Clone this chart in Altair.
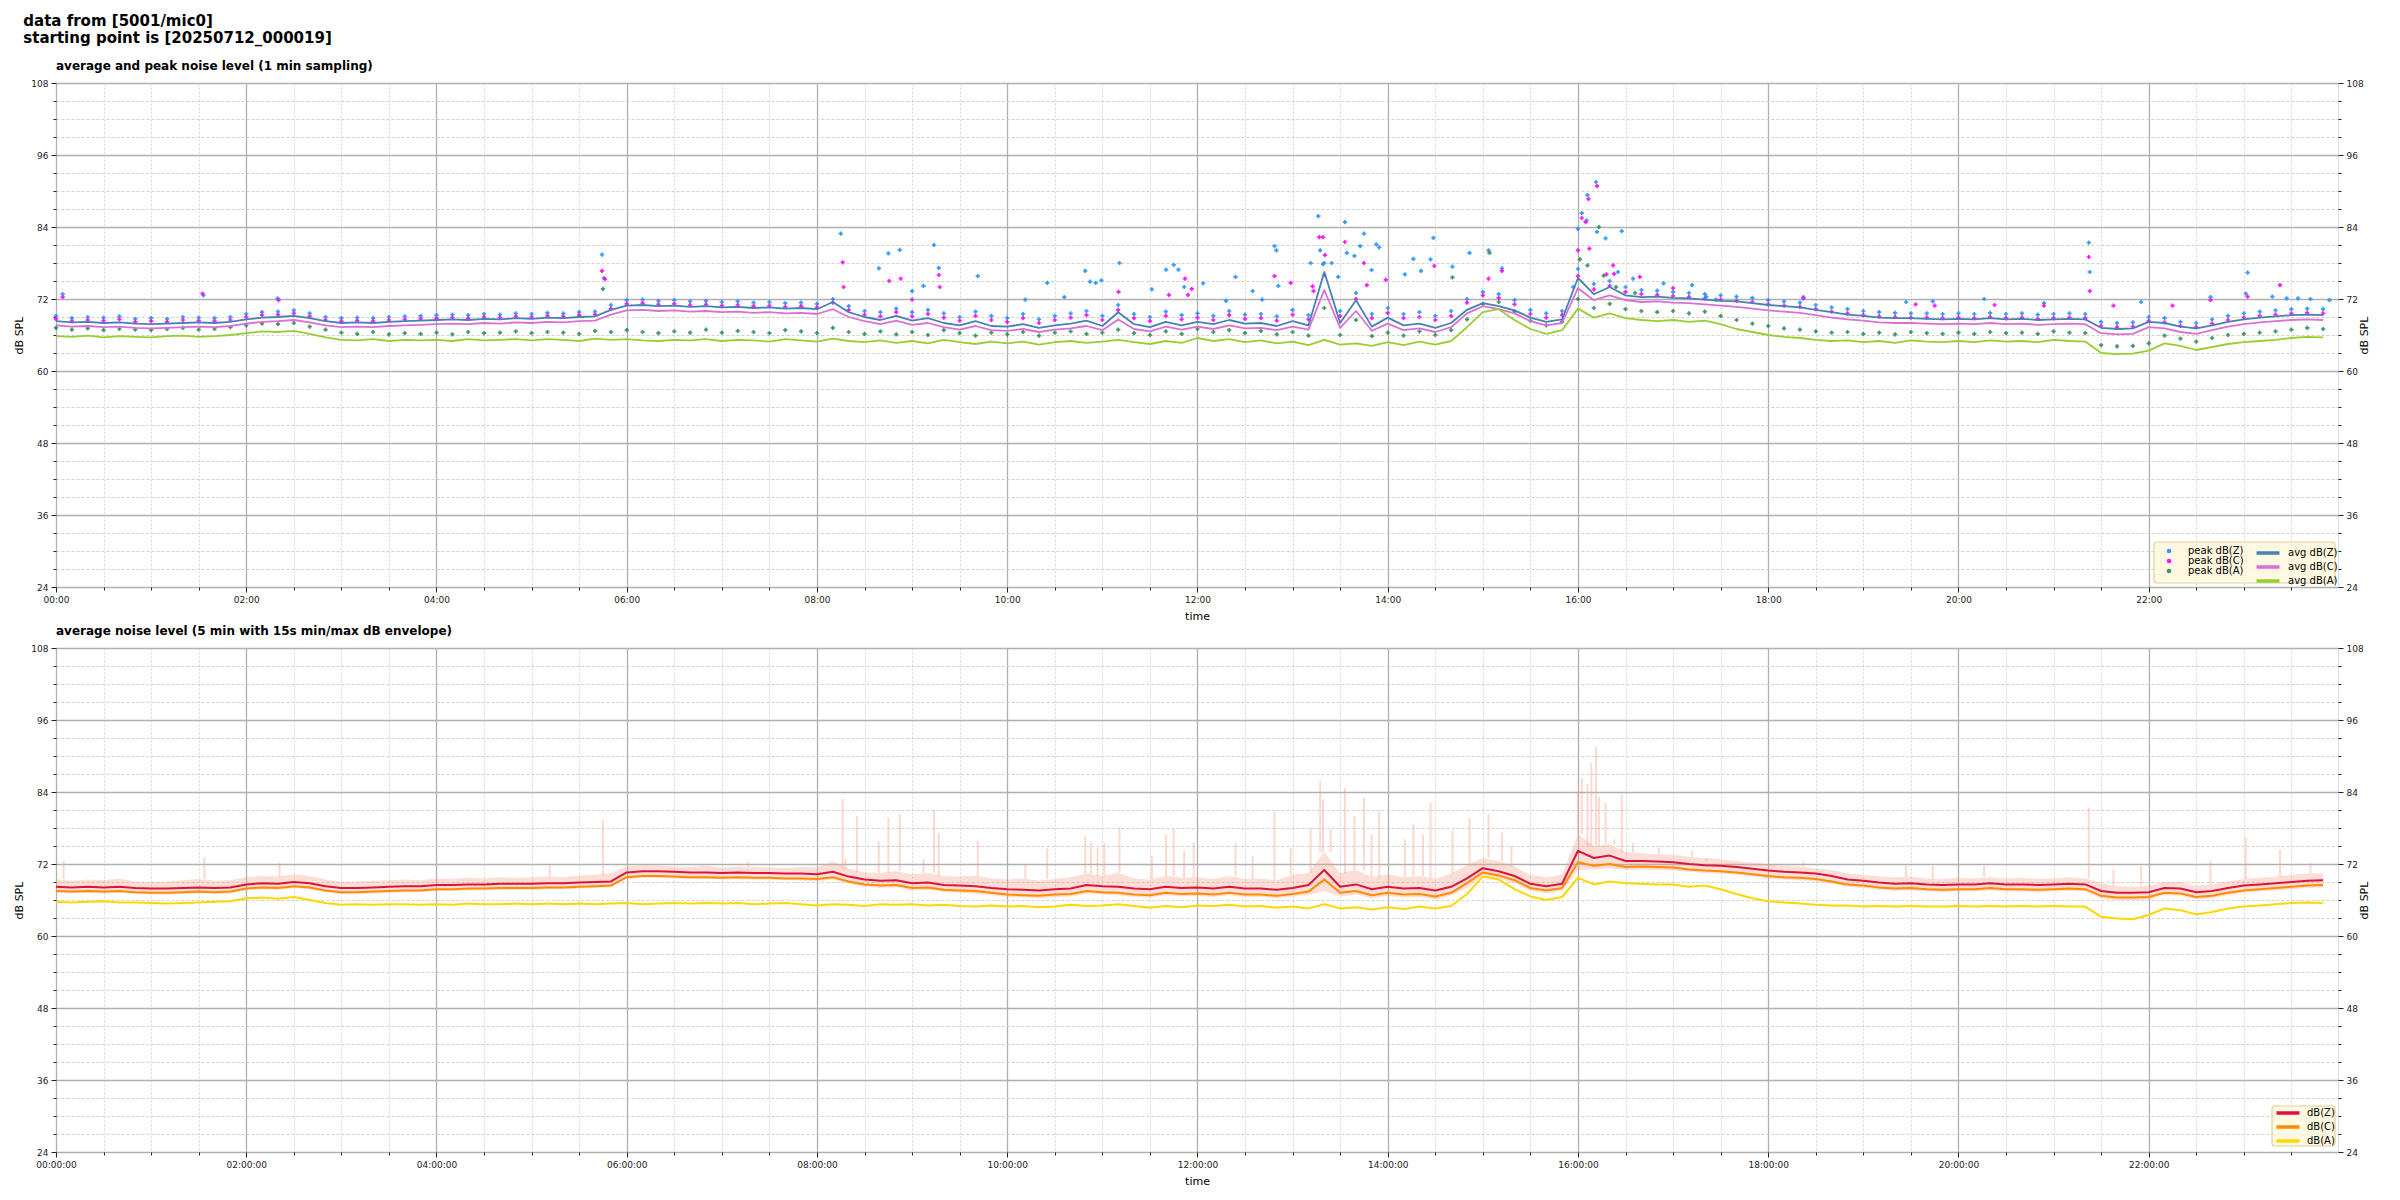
import altair as alt
import pandas as pd

FONT = "DejaVu Sans"
BG = "#fff8dc"

# ---- top panel: 1-min average (sampled every 10 min) ----
AVG_Z = [
    68.3, 68.1, 68.2, 68.0, 68.1, 67.9,  67.8, 67.9, 68.0, 68.1, 68.0, 68.2,
    68.6, 68.9, 69.0, 69.2, 68.8, 68.3,  68.0, 68.1, 68.0, 68.2, 68.3, 68.4,
    68.5, 68.6, 68.5, 68.7, 68.6, 68.8,  68.7, 68.9, 68.8, 69.0, 69.1, 70.2,
    70.9, 71.0, 70.8, 70.9, 70.7, 70.8,  70.6, 70.7, 70.5, 70.6, 70.4, 70.5,
    70.3, 71.5, 69.8, 69.0, 68.5, 69.2,  68.4, 68.8, 68.0, 67.6, 68.3, 67.5,
    67.4, 67.8, 67.2, 67.6, 67.9, 68.4,  67.5, 69.8, 67.8, 67.3, 68.2, 67.6,
    68.2, 67.8, 68.5, 67.9, 68.0, 67.5,  68.3, 67.6, 76.5, 68.0, 71.8, 67.4,
    68.9, 67.6, 67.9, 67.2, 68.0, 70.2,  71.3, 70.8, 70.1, 68.9, 68.2, 68.6,
    75.5, 72.8, 74.0, 72.6, 72.3, 72.4,  72.2, 72.1, 71.9, 71.7, 71.6, 71.3,
    71.0, 70.8, 70.6, 70.2, 69.8, 69.4,  69.2, 68.9, 68.8, 68.8, 68.7, 68.6,
    68.7, 68.6, 68.8, 68.6, 68.7, 68.5,  68.6, 68.7, 68.6, 67.2, 67.0, 67.1,
    68.2, 68.0, 67.4, 67.1, 67.6, 68.2,  68.6, 68.9, 69.1, 69.3, 69.4, 69.3,
]
AVG_C = [
    67.6, 67.4, 67.5, 67.3, 67.4, 67.2,  67.1, 67.2, 67.3, 67.4, 67.3, 67.5,
    67.9, 68.2, 68.3, 68.5, 68.1, 67.6,  67.3, 67.4, 67.3, 67.5, 67.6, 67.7,
    67.8, 67.9, 67.8, 68.0, 67.9, 68.1,  68.0, 68.2, 68.1, 68.3, 68.4, 69.4,
    70.1, 70.2, 70.0, 70.1, 69.9, 70.0,  69.8, 69.9, 69.7, 69.8, 69.6, 69.7,
    69.5, 70.3, 69.0, 68.3, 67.8, 68.4,  67.7, 68.0, 67.3, 66.9, 67.5, 66.8,
    66.7, 67.0, 66.5, 66.9, 67.1, 67.5,  66.8, 68.6, 67.0, 66.6, 67.4, 66.9,
    67.4, 67.0, 67.6, 67.1, 67.2, 66.8,  67.4, 66.9, 73.5, 67.2, 70.0, 66.7,
    67.9, 66.8, 67.1, 66.5, 67.3, 69.6,  70.8, 70.3, 69.6, 68.3, 67.6, 68.0,
    73.8, 71.8, 72.6, 71.8, 71.5, 71.6,  71.4, 71.3, 71.1, 70.9, 70.7, 70.4,
    70.1, 69.9, 69.7, 69.3, 68.9, 68.6,  68.4, 68.1, 68.0, 68.0, 67.9, 67.8,
    67.9, 67.8, 68.0, 67.8, 67.9, 67.7,  67.8, 67.9, 67.8, 66.3, 66.1, 66.2,
    67.3, 67.1, 66.5, 66.2, 66.8, 67.4,  67.8, 68.1, 68.3, 68.5, 68.6, 68.5,
]
AVG_A = [
    65.8, 65.7, 65.9, 65.6, 65.8, 65.7,  65.6, 65.8, 65.9, 65.7, 65.8, 66.0,
    66.3, 66.6, 66.5, 66.7, 66.2, 65.6,  65.2, 65.1, 65.3, 65.0, 65.2, 65.1,
    65.2, 65.0, 65.3, 65.1, 65.2, 65.3,  65.1, 65.3, 65.2, 65.0, 65.4, 65.2,
    65.3, 65.1, 65.0, 65.2, 65.1, 65.3,  65.0, 65.2, 65.1, 64.9, 65.3, 65.1,
    64.9, 65.4, 65.0, 64.8, 65.1, 64.7,  65.0, 64.6, 65.2, 64.8, 64.5, 64.9,
    64.6, 64.9, 64.4, 64.8, 65.0, 64.7,  64.9, 65.2, 64.8, 64.5, 65.0, 64.7,
    65.5, 65.0, 65.3, 64.8, 65.1, 64.6,  64.9, 64.3, 65.2, 64.4, 64.6, 64.2,
    64.8, 64.3, 64.9, 64.4, 65.0, 67.3,  69.8, 70.3, 68.5, 67.0, 66.2, 66.8,
    70.4, 68.9, 69.6, 68.8, 68.5, 68.3,  68.5, 68.2, 68.4, 67.8, 67.0, 66.5,
    66.0, 65.7, 65.5, 65.2, 65.0, 65.1,  64.8, 65.0, 64.7, 65.1, 64.9, 64.8,
    65.0, 64.8, 65.1, 64.9, 65.0, 64.8,  65.2, 65.0, 64.9, 63.0, 62.8, 62.9,
    63.4, 64.6, 64.2, 63.5, 64.0, 64.5,  64.8, 65.0, 65.2, 65.5, 65.7, 65.6,
]

# ---- top panel: 1-min peaks ----
PEAK_Z = [
    69.2, 68.8, 69.0, 68.9, 69.1, 68.7,  68.8, 68.7, 69.0, 68.9, 68.8, 69.0,
    69.5, 69.8, 69.9, 70.1, 69.6, 69.0,  68.8, 68.9, 68.8, 69.0, 69.1, 69.2,
    69.3, 69.4, 69.3, 69.5, 69.4, 69.6,  69.5, 69.7, 69.6, 69.8, 69.9, 71.0,
    71.8, 71.9, 71.7, 71.8, 71.6, 71.7,  71.5, 71.6, 71.4, 71.5, 71.3, 71.4,
    71.2, 72.0, 70.8, 70.0, 69.8, 70.4,  69.8, 70.2, 69.6, 69.0, 69.9, 69.2,
    68.8, 69.5, 68.6, 69.2, 69.6, 70.0,  69.2, 71.0, 69.5, 69.0, 69.9, 69.3,
    69.6, 69.2, 70.0, 69.4, 69.5, 69.1,  70.2, 69.3, 78.0, 70.0, 73.0, 69.5,
    70.5, 69.5, 69.8, 69.2, 70.0, 72.0,  73.2, 72.8, 71.8, 70.2, 69.6, 70.0,
    77.0, 74.5, 75.0, 74.0, 73.5, 73.4,  73.2, 73.0, 72.8, 72.6, 72.4, 72.2,
    71.8, 71.6, 71.4, 71.0, 70.6, 70.3,  70.0, 69.8, 69.7, 69.6, 69.6, 69.5,
    69.6, 69.5, 69.7, 69.5, 69.6, 69.4,  69.5, 69.6, 69.5, 68.2, 68.0, 68.1,
    69.0, 68.8, 68.2, 68.0, 68.6, 69.2,  69.6, 69.9, 70.1, 70.3, 70.4, 70.3,
]
PEAK_C = [
    68.7, 68.3, 68.5, 68.4, 68.6, 68.2,  68.3, 68.2, 68.5, 68.4, 68.3, 68.5,
    69.0, 69.3, 69.4, 69.6, 69.1, 68.5,  68.3, 68.4, 68.3, 68.5, 68.6, 68.7,
    68.8, 68.9, 68.8, 69.0, 68.9, 69.1,  69.0, 69.2, 69.1, 69.3, 69.4, 70.4,
    71.2, 71.3, 71.1, 71.2, 71.0, 71.1,  70.9, 71.0, 70.8, 70.9, 70.7, 70.8,
    70.6, 71.4, 70.2, 69.4, 69.1, 69.8,  69.1, 69.5, 68.9, 68.4, 69.2, 68.5,
    68.2, 68.8, 68.0, 68.5, 68.9, 69.3,  68.5, 70.2, 68.8, 68.3, 69.2, 68.6,
    68.9, 68.5, 69.3, 68.7, 68.8, 68.4,  69.4, 68.6, 76.0, 69.2, 72.0, 68.8,
    69.7, 68.8, 69.0, 68.5, 69.2, 71.4,  72.6, 72.2, 71.1, 69.5, 68.9, 69.3,
    75.8, 73.6, 74.2, 73.2, 72.8, 72.7,  72.5, 72.3, 72.1, 71.9, 71.7, 71.5,
    71.1, 70.9, 70.7, 70.3, 69.9, 69.6,  69.3, 69.1, 69.0, 68.9, 68.9, 68.8,
    68.9, 68.8, 69.0, 68.8, 68.9, 68.7,  68.8, 68.9, 68.8, 67.5, 67.3, 67.4,
    68.3, 68.1, 67.5, 67.3, 67.9, 68.5,  68.9, 69.2, 69.4, 69.6, 69.7, 69.6,
]
PEAK_A = [
    67.2, 66.9, 67.1, 66.8, 67.0, 66.9,  66.8, 67.0, 67.2, 66.9, 67.0, 67.3,
    67.6, 67.9, 67.8, 68.0, 67.4, 66.9,  66.4, 66.2, 66.5, 66.1, 66.3, 66.2,
    66.4, 66.1, 66.5, 66.3, 66.4, 66.6,  66.3, 66.5, 66.4, 66.2, 66.7, 66.5,
    66.8, 66.5, 66.3, 66.6, 66.4, 66.9,  66.4, 66.7, 66.5, 66.3, 66.8, 66.6,
    66.3, 67.2, 66.5, 66.2, 66.6, 66.1,  66.5, 66.0, 66.8, 66.3, 65.9, 66.4,
    66.1, 66.5, 65.9, 66.4, 66.6, 66.2,  66.4, 66.9, 66.3, 66.0, 66.6, 66.2,
    67.0, 66.5, 66.8, 66.3, 66.7, 66.1,  66.5, 65.9, 70.5, 66.0, 68.5, 65.8,
    66.4, 65.9, 66.6, 66.0, 66.8, 68.6,  71.2, 71.5, 69.9, 68.4, 67.6, 68.2,
    72.0, 70.5, 71.2, 70.3, 70.0, 69.8,  70.0, 69.6, 69.9, 69.2, 68.5, 67.9,
    67.5, 67.1, 66.9, 66.6, 66.4, 66.5,  66.2, 66.4, 66.1, 66.5, 66.3, 66.2,
    66.4, 66.2, 66.5, 66.3, 66.4, 66.2,  66.6, 66.4, 66.3, 64.3, 64.1, 64.2,
    64.6, 65.9, 65.4, 64.9, 65.5, 66.0,  66.2, 66.4, 66.6, 66.9, 67.2, 67.0,
]

# isolated peak outliers (hour, dB)
OUT_Z_H = [0.07, 1.55, 2.33, 5.74, 5.76, 8.25, 8.65, 8.75, 8.87, 9.0, 9.12, 9.23, 9.28, 9.69,
           10.19, 10.42, 10.6, 10.82, 10.87, 10.93, 10.99, 11.18, 11.52, 11.67, 11.75, 11.8, 11.86,
           12.06, 12.3, 12.4, 12.58, 12.68, 12.81, 12.83, 12.85, 13.19, 13.27, 13.29, 13.32, 13.41,
           13.48, 13.55, 13.57, 13.65, 13.71, 13.75, 13.83, 13.88, 13.91, 14.18, 14.27, 14.35, 14.45,
           14.48, 14.68, 14.86, 15.06, 15.2, 15.95, 16.0, 16.04, 16.09, 16.1, 16.19, 16.2, 16.29,
           16.46, 16.42, 16.58, 16.9, 17.2, 17.35, 17.45, 18.37, 19.45, 19.73, 20.27, 20.9, 21.37,
           21.38, 21.92, 22.65, 23.02, 23.04, 23.3, 23.45, 23.57, 23.7, 23.9]
OUT_Z_V = [72.8, 72.6, 72.1, 79.4, 75.5, 82.9, 77.1, 79.6, 80.2, 73.3, 74.2, 81.0, 77.2, 75.8,
           71.9, 74.7, 72.3, 76.7, 74.9, 74.7, 75.1, 78.0, 73.6, 76.9, 77.7, 76.9, 74.0,
           74.6, 71.7, 75.7, 73.3, 71.9, 80.8, 80.1, 74.2, 78.0, 85.8, 80.1, 77.8, 78.0,
           75.7, 84.8, 79.7, 79.2, 80.8, 82.9, 76.8, 81.1, 80.6, 76.1, 78.7, 76.7, 78.6,
           82.2, 77.4, 79.7, 80.1, 77.1, 74.0, 83.7, 86.3, 85.1, 89.3, 91.5, 83.2, 82.1,
           83.3, 76.5, 75.4, 74.6, 74.3, 72.4, 71.9, 72.3, 71.5, 71.6, 72.0, 71.3, 81.4,
           76.5, 71.5, 72.3, 72.9, 76.4, 72.4, 72.1, 72.1, 72.0, 71.8]
OUT_C_H = [0.07, 1.54, 2.34, 5.74, 5.77, 8.27, 8.28, 8.76, 8.88, 9.0, 9.28, 9.29, 11.17, 11.7,
           11.87, 11.9, 11.94, 12.81, 12.98, 13.21, 13.22, 13.28, 13.32, 13.34, 13.55, 13.75, 13.78,
           13.98, 14.49, 15.06, 15.2, 16.0, 16.04, 16.08, 16.11, 16.2, 16.12, 16.37, 16.38, 16.3,
           16.65, 17.0, 18.37, 19.55, 19.75, 20.38, 20.9, 21.37, 21.38, 21.63, 22.25, 22.65, 23.04,
           23.38]
OUT_C_V = [72.3, 72.9, 71.8, 76.7, 75.3, 78.1, 74.0, 75.0, 75.4, 71.9, 76.0, 74.0, 73.2, 72.7,
           75.4, 72.7, 73.7, 75.8, 74.7, 74.1, 73.3, 82.3, 82.3, 79.3, 81.5, 78.0, 74.3,
           75.2, 77.5, 75.4, 76.7, 80.1, 85.5, 84.8, 88.7, 90.8, 80.4, 77.6, 76.2, 76.1,
           75.7, 73.8, 72.1, 71.1, 70.9, 71.0, 70.9, 79.0, 73.3, 70.9, 70.9, 71.8, 72.4,
           74.3]
OUT_A_H = [5.75, 14.68, 15.07, 16.02, 16.1, 16.22, 16.27, 16.4, 16.6]
OUT_A_V = [73.7, 75.6, 79.7, 78.6, 77.6, 84.0, 75.9, 74.0, 73.0]

# ---- bottom panel: 5-min averages (sampled every 10 min) ----
BOT_Z = [
    68.2, 68.1, 68.2, 68.1, 68.2, 68.0,  67.9, 67.9, 68.0, 68.1, 68.0, 68.1,
    68.6, 68.8, 68.7, 69.0, 68.8, 68.3,  68.0, 68.0, 68.1, 68.2, 68.3, 68.3,
    68.5, 68.5, 68.6, 68.6, 68.7, 68.7,  68.7, 68.8, 68.8, 68.9, 69.0, 69.1,
    70.6, 70.8, 70.8, 70.7, 70.6, 70.6,  70.5, 70.6, 70.5, 70.5, 70.4, 70.4,
    70.3, 70.7, 69.9, 69.4, 69.2, 69.3,  68.8, 68.9, 68.5, 68.4, 68.3, 68.0,
    67.8, 67.7, 67.6, 67.8, 67.9, 68.5,  68.3, 68.2, 67.9, 67.8, 68.2, 68.0,
    68.1, 67.9, 68.2, 67.9, 67.9, 67.7,  68.0, 68.5, 71.0, 68.2, 68.6, 67.8,
    68.2, 67.9, 68.0, 67.6, 68.2, 69.6,  71.3, 70.8, 70.0, 68.7, 68.3, 68.7,
    74.2, 73.0, 73.4, 72.5, 72.5, 72.4,  72.3, 72.0, 71.8, 71.7, 71.5, 71.2,
    70.9, 70.7, 70.6, 70.4, 70.0, 69.4,  69.2, 68.9, 68.7, 68.8, 68.6, 68.5,
    68.6, 68.6, 68.8, 68.6, 68.6, 68.5,  68.6, 68.7, 68.6, 67.5, 67.2, 67.2,
    67.3, 68.0, 67.9, 67.3, 67.5, 68.0,  68.4, 68.6, 68.8, 69.0, 69.2, 69.3,
]
BOT_C = [
    67.5, 67.4, 67.5, 67.4, 67.5, 67.3,  67.2, 67.2, 67.3, 67.4, 67.3, 67.4,
    67.9, 68.1, 68.0, 68.3, 68.1, 67.6,  67.3, 67.3, 67.4, 67.5, 67.6, 67.6,
    67.8, 67.8, 67.9, 67.9, 68.0, 68.0,  68.0, 68.1, 68.1, 68.2, 68.3, 68.4,
    69.8, 70.0, 70.0, 69.9, 69.8, 69.8,  69.7, 69.8, 69.7, 69.7, 69.6, 69.6,
    69.5, 69.8, 69.1, 68.6, 68.4, 68.5,  68.0, 68.1, 67.7, 67.6, 67.5, 67.2,
    66.9, 66.8, 66.7, 66.9, 67.0, 67.5,  67.3, 67.2, 66.9, 66.8, 67.2, 67.0,
    67.1, 66.9, 67.2, 66.9, 66.9, 66.7,  67.0, 67.4, 69.4, 67.2, 67.5, 66.8,
    67.2, 66.9, 67.0, 66.6, 67.2, 68.8,  70.6, 70.1, 69.3, 68.0, 67.6, 68.0,
    72.3, 71.7, 72.0, 71.5, 71.6, 71.5,  71.4, 71.1, 70.9, 70.8, 70.6, 70.3,
    70.0, 69.8, 69.7, 69.5, 69.1, 68.6,  68.4, 68.1, 67.9, 68.0, 67.8, 67.7,
    67.8, 67.8, 68.0, 67.8, 67.8, 67.7,  67.8, 67.9, 67.8, 66.7, 66.4, 66.4,
    66.5, 67.2, 67.1, 66.5, 66.7, 67.2,  67.6, 67.8, 68.0, 68.2, 68.4, 68.5,
]
BOT_A = [
    65.7, 65.6, 65.7, 65.8, 65.6, 65.6,  65.5, 65.4, 65.5, 65.6, 65.7, 65.8,
    66.3, 66.4, 66.2, 66.5, 66.0, 65.5,  65.2, 65.3, 65.2, 65.3, 65.3, 65.2,
    65.3, 65.2, 65.4, 65.3, 65.3, 65.4,  65.3, 65.4, 65.3, 65.4, 65.3, 65.4,
    65.5, 65.3, 65.4, 65.5, 65.4, 65.5,  65.4, 65.5, 65.3, 65.4, 65.5, 65.3,
    65.1, 65.3, 65.2, 65.0, 65.3, 65.2,  65.3, 65.1, 65.2, 65.0, 64.9, 65.1,
    64.9, 65.0, 64.8, 64.9, 65.2, 65.0,  65.1, 65.3, 65.0, 64.7, 65.0, 64.8,
    65.1, 65.0, 65.2, 64.9, 65.0, 64.7,  64.9, 64.6, 65.3, 64.6, 64.8, 64.4,
    64.8, 64.5, 64.9, 64.6, 65.0, 67.0,  69.9, 69.4, 67.8, 66.6, 66.0, 66.5,
    69.7, 68.6, 69.1, 68.8, 68.7, 68.6,  68.6, 68.2, 68.4, 67.8, 67.0, 66.3,
    65.8, 65.6, 65.4, 65.2, 65.1, 65.1,  64.9, 65.0, 64.9, 65.0, 64.9, 64.9,
    65.0, 64.9, 65.0, 64.9, 65.0, 64.9,  65.0, 64.9, 64.9, 63.2, 62.9, 62.8,
    63.5, 64.6, 64.3, 63.6, 64.0, 64.6,  64.9, 65.1, 65.3, 65.5, 65.6, 65.5,
]
# 15 s min / max envelope
ENV_MAX = [
    69.5, 69.2, 69.4, 69.3, 69.6, 69.1,  69.0, 69.1, 69.3, 69.5, 69.2, 69.3,
    69.8, 70.0, 69.9, 70.3, 70.0, 69.4,  69.0, 69.1, 69.2, 69.3, 69.4, 69.3,
    69.6, 69.5, 69.7, 69.6, 69.8, 69.7,  69.8, 69.9, 69.8, 70.1, 70.2, 70.5,
    71.6, 71.8, 71.7, 71.6, 71.5, 71.7,  71.4, 71.6, 71.5, 71.4, 71.3, 71.5,
    71.4, 72.5, 71.2, 70.6, 70.5, 70.8,  70.3, 70.5, 70.0, 69.9, 70.1, 69.6,
    69.4, 69.6, 69.2, 69.5, 69.8, 70.4,  70.0, 70.5, 69.6, 69.4, 70.0, 69.7,
    69.8, 69.5, 70.0, 69.5, 69.6, 69.3,  70.2, 70.5, 74.0, 70.5, 71.0, 69.8,
    70.3, 69.8, 70.0, 69.5, 70.4, 71.8,  73.0, 72.5, 71.6, 70.2, 69.8, 70.2,
    77.0, 75.0, 75.3, 74.0, 73.8, 73.6,  73.6, 73.2, 73.0, 72.8, 72.5, 72.2,
    71.9, 71.7, 71.6, 71.3, 71.0, 70.4,  70.2, 69.9, 69.8, 69.9, 69.6, 69.5,
    69.7, 69.6, 69.8, 69.6, 69.7, 69.5,  69.6, 69.8, 69.6, 68.8, 68.3, 68.2,
    68.4, 69.0, 69.0, 68.4, 68.6, 69.1,  69.5, 69.7, 69.9, 70.2, 70.4, 70.4,
]
ENV_MIN = [
    67.2, 67.1, 67.2, 67.1, 67.2, 67.0,  66.9, 66.9, 67.0, 67.1, 67.0, 67.1,
    67.6, 67.8, 67.7, 68.0, 67.8, 67.3,  67.0, 67.0, 67.1, 67.2, 67.3, 67.3,
    67.5, 67.5, 67.6, 67.6, 67.7, 67.7,  67.7, 67.8, 67.8, 67.9, 68.0, 68.1,
    69.5, 69.7, 69.7, 69.6, 69.5, 69.5,  69.4, 69.5, 69.4, 69.4, 69.3, 69.3,
    69.1, 69.4, 68.7, 68.2, 68.0, 68.1,  67.6, 67.7, 67.3, 67.2, 67.0, 66.8,
    66.5, 66.4, 66.3, 66.5, 66.6, 67.1,  66.9, 66.8, 66.5, 66.4, 66.8, 66.6,
    66.7, 66.5, 66.8, 66.5, 66.5, 66.3,  66.6, 66.8, 67.5, 66.6, 66.9, 66.3,
    66.7, 66.4, 66.5, 66.1, 66.7, 68.0,  70.0, 69.5, 68.8, 67.5, 67.1, 67.5,
    71.0, 71.1, 71.3, 71.0, 71.1, 71.0,  70.9, 70.7, 70.5, 70.4, 70.2, 69.9,
    69.6, 69.4, 69.3, 69.1, 68.7, 68.2,  68.0, 67.7, 67.5, 67.6, 67.4, 67.3,
    67.4, 67.4, 67.6, 67.4, 67.4, 67.3,  67.4, 67.5, 67.4, 66.3, 66.0, 66.0,
    66.1, 66.8, 66.7, 66.1, 66.3, 66.8,  67.2, 67.4, 67.6, 67.8, 68.0, 68.1,
]
# short 15 s maxima that stick out of the envelope (hour, dB)
SPIKE_H = [0.08, 1.56, 2.35, 5.19, 5.75, 7.28, 8.27, 8.3, 8.42, 8.65, 8.75, 8.87, 9.12, 9.23, 9.28,
           9.69, 10.19, 10.42, 10.82, 10.88, 10.95, 11.02, 11.18, 11.52, 11.67, 11.75, 11.86, 11.96,
           12.4, 12.58, 12.81, 12.98, 13.19, 13.29, 13.32, 13.4, 13.55, 13.65, 13.75, 13.83, 13.91,
           14.18, 14.27, 14.37, 14.45, 14.68, 14.86, 15.06, 15.2, 15.3, 16.0, 16.04, 16.1, 16.14,
           16.19, 16.22, 16.29, 16.38, 16.46, 16.58, 16.85, 17.2, 17.35, 18.37, 19.45, 19.73, 20.27,
           21.37, 21.63, 21.92, 22.65, 23.02, 23.38, 23.7]
SPIKE_V = [72.5, 73.1, 72.2, 72.0, 79.3, 72.5, 82.9, 72.8, 80.0, 75.8, 79.7, 80.3, 72.8, 81.0, 77.2,
           75.8, 72.0, 74.6, 76.6, 75.6, 74.7, 75.6, 78.1, 73.4, 76.9, 77.8, 74.2, 75.6,
           75.6, 73.3, 80.8, 74.7, 78.1, 85.8, 82.8, 77.8, 84.7, 80.0, 83.1, 76.9, 80.8,
           76.1, 78.6, 76.9, 82.2, 77.5, 79.7, 80.3, 77.2, 75.0, 84.2, 86.4, 85.3, 88.9,
           91.4, 83.3, 82.2, 76.1, 83.6, 75.6, 74.7, 74.2, 72.5, 72.5, 71.7, 71.7, 71.7,
           81.4, 71.1, 71.7, 72.5, 76.4, 74.4, 72.2]

Y_TICKS = list(range(24, 109, 3))          # minor every 3 dB, labels every 12 dB
X_TICKS = [i * 0.5 for i in range(48)]     # minor every 30 min, labels every 2 h
HOURS = [i / 6 for i in range(144)]        # 10-minute sampling

W, H = 2282, 504
xscale = alt.Scale(domain=[0, 23.99], nice=False, zero=False)
yscale = alt.Scale(domain=[24, 108], nice=False, zero=False)
LINE_SYMBOL = "M-2.3,0H2.3"


def x_axis(suffix):
    major = "datum.value % 2 === 0"
    return alt.Axis(
        values=X_TICKS, title="time", titleFont=FONT, titleFontSize=11, titleFontWeight="normal",
        titleColor="#000", titlePadding=6,
        labelExpr=f"{major} ? (datum.value < 10 ? '0' : '') + datum.value + '{suffix}' : ''",
        labelFont=FONT, labelFontSize=9, labelColor="#222", labelPadding=3, labelFlush=False,
        domain=False, tickColor="#222", tickWidth=1,
        tickSize={"condition": {"test": major, "value": 5}, "value": 3},
        grid=True,
        gridColor={"condition": {"test": major, "value": "#b0b0b0"}, "value": "#d2ccbc"},
        gridWidth={"condition": {"test": major, "value": 1.3}, "value": 0.8},
        gridDash={"condition": {"test": major, "value": []}, "value": [2, 2]},
    )


def y_axis(orient):
    major = "datum.value % 12 === 0"
    return alt.Axis(
        orient=orient, values=Y_TICKS, title="dB SPL", titleFont=FONT, titleFontSize=11,
        titleFontWeight="normal", titleColor="#000", titlePadding=6, titleAngle=270,
        labelExpr=f"{major} ? datum.label : ''",
        labelFont=FONT, labelFontSize=9, labelColor="#222", labelPadding=3,
        domain=False, tickColor="#222", tickWidth=1,
        tickSize={"condition": {"test": major, "value": 5}, "value": 3},
        grid=(orient == "left"),
        gridColor={"condition": {"test": major, "value": "#b0b0b0"}, "value": "#c8c4b8"},
        gridWidth={"condition": {"test": major, "value": 1.5}, "value": 0.8},
        gridDash={"condition": {"test": major, "value": []}, "value": [3, 2]},
    )


def line_legend(x, y, offset):
    return alt.Legend(orient="none", legendX=x, legendY=y, title=None,
                      symbolType=LINE_SYMBOL, symbolStrokeWidth=3.5, symbolSize=100,
                      labelFont=FONT, labelFontSize=10, labelColor="#000",
                      rowPadding=0, labelOffset=offset)


def long_df(series):
    rows = []
    for name, vals in series.items():
        for h, v in zip(HOURS, vals):
            rows.append({"h": h, "v": v, "s": name})
    return pd.DataFrame(rows)


def sub_title(text):
    return alt.TitleParams(text, anchor="start", frame="group", font=FONT, fontSize=12,
                           fontWeight="bold", offset=6, color="#000")


# ---------------- top panel ----------------
avg_df = long_df({"avg dB(Z)": AVG_Z, "avg dB(C)": AVG_C, "avg dB(A)": AVG_A})
peak_df = long_df({"peak dB(Z)": PEAK_Z, "peak dB(C)": PEAK_C, "peak dB(A)": PEAK_A})
out_df = pd.concat([
    pd.DataFrame({"h": OUT_Z_H, "v": OUT_Z_V, "s": "peak dB(Z)"}),
    pd.DataFrame({"h": OUT_C_H, "v": OUT_C_V, "s": "peak dB(C)"}),
    pd.DataFrame({"h": OUT_A_H, "v": OUT_A_V, "s": "peak dB(A)"}),
])
peak_df = pd.concat([peak_df, out_df], ignore_index=True)

avg_names = ["avg dB(Z)", "avg dB(C)", "avg dB(A)"]
peak_names = ["peak dB(Z)", "peak dB(C)", "peak dB(A)"]

x_top = alt.X("h:Q", scale=xscale, axis=x_axis(":00"))

top_lines = alt.Chart(avg_df).mark_line(strokeWidth=1.8, strokeJoin="round").encode(
    x=x_top,
    y=alt.Y("v:Q", scale=yscale, axis=y_axis("left")),
    stroke=alt.Stroke("s:N", sort=avg_names,
                      scale=alt.Scale(domain=avg_names, range=["#4682b4", "#da70d6", "#9acd32"]),
                      legend=line_legend(2205, 463, 13)),
    detail="s:N",
)
top_points = alt.Chart(peak_df).mark_point(shape="cross", filled=True, size=18, opacity=0.9).encode(
    x=x_top,
    y=alt.Y("v:Q", scale=yscale, axis=None),
    fill=alt.Fill("s:N", sort=peak_names,
                  scale=alt.Scale(domain=peak_names, range=["#1e90ff", "#ff00ff", "#2e8b57"]),
                  legend=alt.Legend(orient="none", legendX=2108, legendY=463, title=None,
                                    symbolType="circle", symbolSize=22, labelFont=FONT,
                                    labelFontSize=10, labelColor="#000", rowPadding=0,
                                    labelOffset=14)),
)
top_right = alt.Chart(avg_df).mark_point(opacity=0).encode(
    x=x_top, y=alt.Y("v:Q", scale=yscale, axis=y_axis("right")),
)
top_frame = alt.Chart(avg_df.head(1)).mark_rect(
    fill=BG, fillOpacity=0.85, stroke="#e2cf9c", strokeWidth=1.2, cornerRadius=3
).encode(x=alt.value(2098), x2=alt.value(2279), y=alt.value(459), y2=alt.value(500))

top = alt.layer(top_points, top_lines, top_right, top_frame).resolve_axis(y="independent").properties(
    width=W, height=H, title=sub_title("average and peak noise level (1 min sampling)"),
)

# ---------------- bottom panel ----------------
bot_df = long_df({"dB(Z)": BOT_Z, "dB(C)": BOT_C, "dB(A)": BOT_A})
env_df = pd.DataFrame({"h": HOURS, "lo": ENV_MIN, "hi": ENV_MAX})
spike_df = pd.DataFrame({"h": SPIKE_H, "v": SPIKE_V})
spike_df["base"] = [ENV_MAX[min(143, round(h * 6))] for h in SPIKE_H]

bot_names = ["dB(Z)", "dB(C)", "dB(A)"]
x_bot = alt.X("h:Q", scale=xscale, axis=x_axis(":00:00"))

env = alt.Chart(env_df).mark_area(color="#f4a08a", opacity=0.35).encode(
    x=x_bot, y=alt.Y("lo:Q", scale=yscale, axis=y_axis("left")), y2="hi:Q",
)
spikes = alt.Chart(spike_df).mark_rule(color="#f4a08a", opacity=0.4, strokeWidth=2).encode(
    x=x_bot, y=alt.Y("v:Q", scale=yscale, axis=None), y2="base:Q",
)
bot_lines = alt.Chart(bot_df).mark_line(strokeWidth=2, strokeJoin="round").encode(
    x=x_bot,
    y=alt.Y("v:Q", scale=yscale, axis=None),
    stroke=alt.Stroke("s:N", sort=bot_names,
                      scale=alt.Scale(domain=bot_names, range=["#dc143c", "#ff8c00", "#ffd700"]),
                      legend=line_legend(2225, 458, 12)),
    detail="s:N",
)
bot_right = alt.Chart(bot_df).mark_point(opacity=0).encode(
    x=x_bot, y=alt.Y("v:Q", scale=yscale, axis=y_axis("right")),
)
bot_frame = alt.Chart(bot_df.head(1)).mark_rect(
    fill=BG, fillOpacity=0.85, stroke="#e2cf9c", strokeWidth=1.2, cornerRadius=3
).encode(x=alt.value(2216), x2=alt.value(2279), y=alt.value(458), y2=alt.value(498))

bottom = alt.layer(env, spikes, bot_lines, bot_right, bot_frame).resolve_axis(y="independent").properties(
    width=W, height=H, title=sub_title("average noise level (5 min with 15s min/max dB envelope)"),
)

chart = alt.vconcat(top, bottom, spacing=2).resolve_scale(
    stroke="independent", fill="independent"
).resolve_legend(
    stroke="independent", fill="independent"
).properties(
    title=alt.TitleParams(["data from [5001/mic0]", "starting point is [20250712_000019]"],
                          anchor="start", frame="bounds", font=FONT, fontSize=15, fontWeight="bold",
                          lineHeight=17, dx=10, offset=14, color="#000"),
).configure_view(
    fill=BG, stroke="#000", strokeWidth=1.3,
).configure(
    background="white", font=FONT,
)

chart.save("out.html", embed_options={"renderer": "svg", "actions": False})
